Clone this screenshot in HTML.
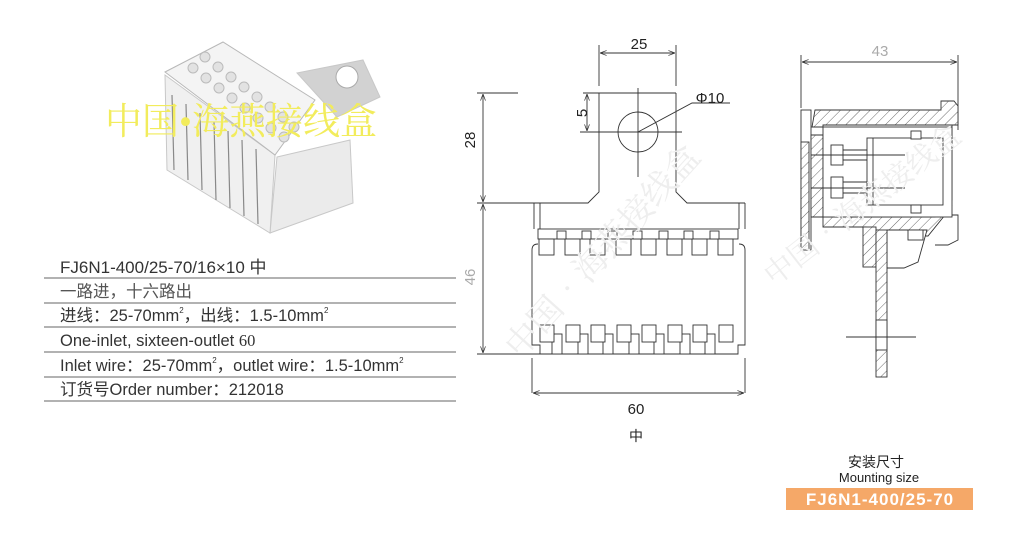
<!DOCTYPE html>
<html><head><meta charset="utf-8"><style>
body{margin:0;background:#fff;}
svg{display:block;font-family:"Liberation Sans","Noto Sans CJK SC",sans-serif;}
</style></head><body>
<svg width="1027" height="546" viewBox="0 0 1027 546" xmlns="http://www.w3.org/2000/svg">
<defs>
<pattern id="h" patternUnits="userSpaceOnUse" width="7" height="7" patternTransform="rotate(45)">
<rect width="7" height="7" fill="#fff"/><line x1="0" y1="0" x2="0" y2="7" stroke="#444" stroke-width="0.8"/></pattern>
<marker id="a" markerWidth="8" markerHeight="6" refX="8" refY="3" orient="auto-start-reverse"><path d="M0,0 L8,3 L0,6" fill="none" stroke="#333" stroke-width="0.8"/></marker>
</defs>

<!-- photo -->
<g stroke="#c8c8c8" stroke-width="1">
<polygon points="297,73 363,60 380,97 337,117" fill="#d2d2d2"/>
<circle cx="347" cy="77" r="11" fill="#fff" stroke="#aaa"/>
<polygon points="277,157 350,140 353,203 270,233" fill="#ebebeb"/>
<polygon points="165,75 275,155 270,233 167,170" fill="#f0f0f0"/>
<polygon points="165,72 223,42 315,100 275,155" fill="#f4f4f4" stroke="#b8b8b8"/>
</g>
<g stroke="#888" stroke-width="1.2">
<line x1="172" y1="95" x2="174" y2="170"/><line x1="186" y1="104" x2="188" y2="180"/><line x1="200" y1="113" x2="202" y2="190"/><line x1="214" y1="122" x2="216" y2="200"/><line x1="228" y1="131" x2="230" y2="208"/><line x1="242" y1="140" x2="244" y2="216"/><line x1="256" y1="149" x2="258" y2="224"/>
</g>
<g fill="#e2e2e2" stroke="#bbb">
<circle cx="205" cy="57" r="5"/><circle cx="193" cy="68" r="5"/><circle cx="218" cy="67" r="5"/><circle cx="206" cy="78" r="5"/><circle cx="231" cy="77" r="5"/><circle cx="219" cy="88" r="5"/><circle cx="244" cy="87" r="5"/><circle cx="232" cy="98" r="5"/><circle cx="257" cy="97" r="5"/><circle cx="245" cy="108" r="5"/><circle cx="270" cy="107" r="5"/><circle cx="258" cy="118" r="5"/><circle cx="283" cy="117" r="5"/><circle cx="271" cy="128" r="5"/><circle cx="294" cy="127" r="5"/><circle cx="284" cy="137" r="5"/>
</g>
<text x="105" y="134" font-size="37" fill="#f2ec5c" font-family="'Liberation Serif','Noto Serif CJK SC',serif">中国•海燕接线盒</text>

<!-- table -->
<g fill="#333" font-size="16.5">
<text x="60" y="273" font-size="17">FJ6N1-400/25-70/16×10 中</text>
<text x="60" y="297" fill="#555">一路进，十六路出</text>
<text x="60" y="321">进线：25-70mm<tspan font-size="8" dy="-8">2</tspan><tspan dy="8">，出线：1.5-10mm</tspan><tspan font-size="8" dy="-8">2</tspan></text>
<text x="60" y="346">One-inlet, sixteen-outlet <tspan font-family="'Liberation Serif',serif">60</tspan></text>
<text x="60" y="371">Inlet wire：25-70mm<tspan font-size="8" dy="-8">2</tspan><tspan dy="8">，outlet wire：1.5-10mm</tspan><tspan font-size="8" dy="-8">2</tspan></text>
<text x="60" y="395">订货号Order number：212018</text>
</g>
<g stroke="#666" stroke-width="1">
<line x1="44" y1="278" x2="456" y2="278"/><line x1="44" y1="303" x2="456" y2="303"/><line x1="44" y1="327" x2="456" y2="327"/><line x1="44" y1="352" x2="456" y2="352"/><line x1="44" y1="377" x2="456" y2="377"/><line x1="44" y1="401" x2="456" y2="401"/>
</g>

<!-- middle drawing -->
<g stroke="#333" stroke-width="0.9" fill="none">
<line x1="599" y1="45" x2="599" y2="86"/><line x1="676" y1="45" x2="676" y2="86"/>
<line x1="600" y1="53" x2="675" y2="53" marker-start="url(#a)" marker-end="url(#a)"/>
<line x1="583" y1="93" x2="676" y2="93"/>
<line x1="587" y1="94" x2="587" y2="131" marker-start="url(#a)" marker-end="url(#a)"/>
<line x1="580" y1="132" x2="682" y2="132"/>
<line x1="638" y1="88" x2="638" y2="177"/>
<circle cx="638" cy="132" r="20"/>
<polyline points="638,132 692,103 730,103"/>
<polyline points="599,93 599,192 588,203 534,203"/>
<polyline points="676,93 676,192 687,203 745,203"/>
<line x1="477" y1="93" x2="518" y2="93"/><line x1="477" y1="203" x2="534" y2="203"/><line x1="477" y1="354" x2="540" y2="354"/>
<line x1="483" y1="94" x2="483" y2="202" marker-start="url(#a)" marker-end="url(#a)"/>
<line x1="483" y1="204" x2="483" y2="353" marker-start="url(#a)" marker-end="url(#a)"/>
<path d="M534,203 V229 M540,203 V229 M739,203 V229 M745,203 V229"/>
<rect x="538" y="229" width="200" height="10"/>
<path d="M532,250 Q532,244 538,244 M745,250 Q745,244 739,244"/>
<path d="M532,250 V345 H540 V354 H738 V345 H745 V250"/>
<line x1="532" y1="393" x2="532" y2="358"/><line x1="745" y1="393" x2="745" y2="358"/>
<line x1="533" y1="393" x2="744" y2="393" marker-start="url(#a)" marker-end="url(#a)"/>
</g>
<g stroke="#333" stroke-width="0.9" fill="#fff">
<rect x="539" y="239" width="15" height="16"/><rect x="565" y="239" width="15" height="16"/><rect x="590" y="239" width="15" height="16"/><rect x="616" y="239" width="15" height="16"/><rect x="641" y="239" width="15" height="16"/><rect x="667" y="239" width="15" height="16"/><rect x="692" y="239" width="15" height="16"/><rect x="718" y="239" width="15" height="16"/>
<rect x="557" y="231" width="9" height="8"/><rect x="582" y="231" width="9" height="8"/><rect x="608" y="231" width="9" height="8"/><rect x="633" y="231" width="9" height="8"/><rect x="659" y="231" width="9" height="8"/><rect x="684" y="231" width="9" height="8"/><rect x="710" y="231" width="9" height="8"/>
<rect x="552" y="334" width="10" height="20"/><rect x="578" y="334" width="10" height="20"/><rect x="603" y="334" width="10" height="20"/><rect x="629" y="334" width="10" height="20"/><rect x="654" y="334" width="10" height="20"/><rect x="680" y="334" width="10" height="20"/><rect x="705" y="334" width="10" height="20"/>
<rect x="540" y="325" width="14" height="17"/><rect x="566" y="325" width="14" height="17"/><rect x="591" y="325" width="14" height="17"/><rect x="617" y="325" width="14" height="17"/><rect x="642" y="325" width="14" height="17"/><rect x="668" y="325" width="14" height="17"/><rect x="693" y="325" width="14" height="17"/><rect x="719" y="325" width="14" height="17"/>
</g>
<g fill="#222" font-size="15" text-anchor="middle">
<text x="639" y="49">25</text>
<text x="710" y="103">Φ10</text>
<text x="582" y="113" transform="rotate(-90 582 113)" dy="5">5</text>
<text x="470" y="140" transform="rotate(-90 470 140)" dy="5">28</text>
<text x="470" y="277" transform="rotate(-90 470 277)" dy="5" fill="#aaa">46</text>
<text x="636" y="414">60</text>
<text x="636" y="441" font-size="14">中</text>
</g>
<text x="520" y="360" font-size="34" fill="#eee" transform="rotate(-48 520 360)" font-family="'Noto Serif CJK SC',serif">中国•海燕接线盒</text>

<!-- right drawing -->
<g stroke="#333" stroke-width="0.9">
<line x1="801" y1="55" x2="801" y2="108" fill="none"/><line x1="958" y1="55" x2="958" y2="130" fill="none"/>
<line x1="802" y1="62" x2="957" y2="62" marker-start="url(#a)" marker-end="url(#a)"/>
<path d="M815,110 H941 V101 H954 L958,106 V125 H823 V127 H812 Z" fill="url(#h)"/>
<rect x="801" y="110" width="10" height="140" fill="#fff"/>
<rect x="801" y="142" width="8" height="108" fill="url(#h)"/>
<path d="M811,135 H823 V217 H811 Z" fill="url(#h)"/>
<path d="M823,217 H935 L952,200 V125 M823,217 V227 H866 V236 H928 L945,215 L952,205" fill="url(#h)"/>
<rect x="823" y="127" width="129" height="90" fill="#fff"/>
<rect x="867" y="138" width="76" height="67" fill="#fff"/>
<line x1="873" y1="138" x2="873" y2="205"/>
<rect x="831" y="145" width="12" height="20" fill="#fff"/><rect x="831" y="177" width="12" height="21" fill="#fff"/>
<path d="M843,150 H867 M843,160 H867 M843,182 H867 M843,193 H867 M811,155 H905 M811,188 H905" fill="none"/>
<rect x="911" y="131" width="10" height="8" fill="#fff"/><rect x="911" y="205" width="10" height="8" fill="#fff"/>
<rect x="863" y="227" width="13" height="40" fill="url(#h)"/>
<polygon points="887,230 927,230 918,262 904,268 887,268" fill="#fff"/>
<rect x="876" y="230" width="11" height="147" fill="url(#h)"/>
<rect x="876" y="320" width="11" height="30" fill="#fff"/>
<line x1="846" y1="337" x2="916" y2="337"/>
<rect x="908" y="230" width="15" height="10" fill="#fff"/>
<path d="M952,215 H958 V240 L948,245 H935" fill="none"/>
</g>
<text x="880" y="56" font-size="15" fill="#aaa" text-anchor="middle">43</text>
<text x="5" y="0" font-size="30" fill="#eee" transform="translate(770 290) rotate(-38)" font-family="'Noto Serif CJK SC',serif">中国•海燕接线盒</text>

<g text-anchor="middle" fill="#222">
<text x="876" y="467" font-size="14">安装尺寸</text>
<text x="879" y="482" font-size="13">Mounting size</text>
</g>
<rect x="786" y="488" width="187" height="22" fill="#f5a868"/>
<text x="880" y="505" font-size="17" font-weight="bold" fill="#fff" text-anchor="middle" letter-spacing="1">FJ6N1-400/25-70</text>
</svg>
</body></html>
